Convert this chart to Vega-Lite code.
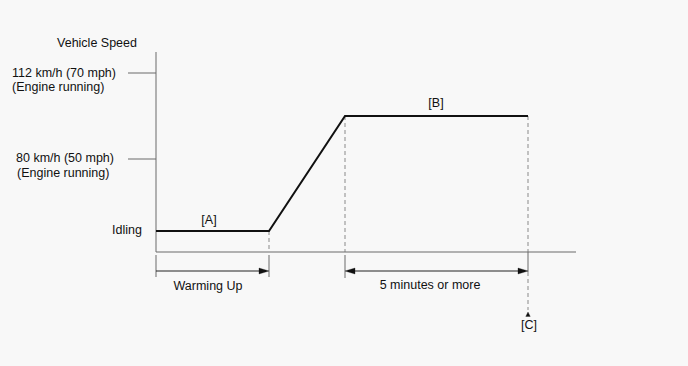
{
  "$schema": "https://vega.github.io/schema/vega-lite/v6.json",
  "width": 688,
  "height": 366,
  "padding": 0,
  "autosize": {"type": "none"},
  "background": "#f8f8f8",
  "config": {"view": {"stroke": null}, "text": {"font": "Liberation Sans", "fontSize": 12.5, "color": "#111111"}},
  "datasets": {
    "axes": [
      {"x": 0, "x2": 0, "y": 0, "y2": 200},
      {"x": 0, "x2": 420, "y": 0, "y2": 0},
      {"x": -28, "x2": 0, "y": 179, "y2": 179},
      {"x": -28, "x2": 0, "y": 93, "y2": 93},
      {"x": 0, "x2": 0, "y": -3, "y2": -25},
      {"x": 113, "x2": 113, "y": -3, "y2": -25},
      {"x": 189, "x2": 189, "y": -3, "y2": -26},
      {"x": 372, "x2": 372, "y": 0, "y2": -20}
    ],
    "dashed": [
      {"x": 113, "x2": 113, "y": 21, "y2": 0},
      {"x": 189, "x2": 189, "y": 136, "y2": 0},
      {"x": 372, "x2": 372, "y": 136, "y2": 0},
      {"x": 372, "x2": 372, "y": -20, "y2": -58}
    ],
    "speed": [
      {"t": 0, "v": 21},
      {"t": 113, "v": 21},
      {"t": 189, "v": 136},
      {"t": 372, "v": 136}
    ],
    "spans": [
      {"x": 0, "x2": 108, "y": -19, "y2": -19},
      {"x": 194, "x2": 367, "y": -19, "y2": -19}
    ],
    "heads": [
      {"x": 113, "y": -19, "dir": "right"},
      {"x": 372, "y": -19, "dir": "right"},
      {"x": 189, "y": -19, "dir": "left"},
      {"x": 372, "y": -60, "dir": "up"}
    ],
    "labels": [
      {"x": -59, "y": 209, "text": "Vehicle Speed", "pos": "center"},
      {"x": -144, "y": 179, "text": "112 km/h (70 mph)", "pos": "left"},
      {"x": -144, "y": 165, "text": "(Engine running)", "pos": "left"},
      {"x": -140, "y": 94, "text": "80 km/h (50 mph)", "pos": "left"},
      {"x": -139, "y": 79, "text": "(Engine running)", "pos": "left"},
      {"x": -14, "y": 22, "text": "Idling", "pos": "right"},
      {"x": 53, "y": 32, "text": "[A]", "pos": "center"},
      {"x": 52, "y": -34, "text": "Warming Up", "pos": "center"},
      {"x": 280, "y": 149, "text": "[B]", "pos": "center"},
      {"x": 274, "y": -33, "text": "5 minutes or more", "pos": "center"},
      {"x": 373, "y": -73, "text": "[C]", "pos": "center"}
    ]
  },
  "layer": [
    {
      "data": {"name": "dashed"},
      "mark": {"type": "rule", "stroke": "#8a8a8a", "strokeWidth": 1, "strokeDash": [4, 3]},
      "encoding": {
        "x": {"field": "x", "type": "quantitative", "scale": {"domain": [-156, 532], "nice": false, "zero": false}, "axis": null},
        "x2": {"field": "x2"},
        "y": {"field": "y", "type": "quantitative", "scale": {"domain": [-114, 252], "nice": false, "zero": false}, "axis": null},
        "y2": {"field": "y2"}
      }
    },
    {
      "data": {"name": "axes"},
      "mark": {"type": "rule", "stroke": "#6a6a6a", "strokeWidth": 1},
      "encoding": {
        "x": {"field": "x", "type": "quantitative"},
        "x2": {"field": "x2"},
        "y": {"field": "y", "type": "quantitative"},
        "y2": {"field": "y2"}
      }
    },
    {
      "data": {"name": "spans"},
      "mark": {"type": "rule", "stroke": "#222222", "strokeWidth": 1.2},
      "encoding": {
        "x": {"field": "x", "type": "quantitative"},
        "x2": {"field": "x2"},
        "y": {"field": "y", "type": "quantitative"},
        "y2": {"field": "y2"}
      }
    },
    {
      "data": {"name": "speed"},
      "mark": {"type": "line", "stroke": "#111111", "strokeWidth": 2},
      "encoding": {
        "x": {"field": "t", "type": "quantitative"},
        "y": {"field": "v", "type": "quantitative"},
        "order": {"field": "t"}
      }
    },
    {
      "data": {"name": "heads"},
      "transform": [{"filter": "datum.dir === 'right'"}],
      "mark": {"type": "point", "shape": "M0,0L-1,-0.3L-1,0.3Z", "size": 400, "filled": true, "fill": "#111111", "stroke": "#111111", "strokeWidth": 0.3, "opacity": 1},
      "encoding": {
        "x": {"field": "x", "type": "quantitative"},
        "y": {"field": "y", "type": "quantitative"}
      }
    },
    {
      "data": {"name": "heads"},
      "transform": [{"filter": "datum.dir === 'left'"}],
      "mark": {"type": "point", "shape": "M0,0L1,-0.3L1,0.3Z", "size": 400, "filled": true, "fill": "#111111", "stroke": "#111111", "strokeWidth": 0.3, "opacity": 1},
      "encoding": {
        "x": {"field": "x", "type": "quantitative"},
        "y": {"field": "y", "type": "quantitative"}
      }
    },
    {
      "data": {"name": "heads"},
      "transform": [{"filter": "datum.dir === 'up'"}],
      "mark": {"type": "point", "shape": "M0,0L-0.5,1L0.5,1Z", "size": 80, "filled": true, "fill": "#111111", "stroke": "#111111", "strokeWidth": 0.3, "opacity": 1},
      "encoding": {
        "x": {"field": "x", "type": "quantitative"},
        "y": {"field": "y", "type": "quantitative"}
      }
    },
    {
      "data": {"name": "labels"},
      "transform": [{"filter": "datum.pos === 'center'"}],
      "mark": {"type": "text", "align": "center", "baseline": "middle"},
      "encoding": {
        "x": {"field": "x", "type": "quantitative"},
        "y": {"field": "y", "type": "quantitative"},
        "text": {"field": "text"}
      }
    },
    {
      "data": {"name": "labels"},
      "transform": [{"filter": "datum.pos === 'left'"}],
      "mark": {"type": "text", "align": "left", "baseline": "middle"},
      "encoding": {
        "x": {"field": "x", "type": "quantitative"},
        "y": {"field": "y", "type": "quantitative"},
        "text": {"field": "text"}
      }
    },
    {
      "data": {"name": "labels"},
      "transform": [{"filter": "datum.pos === 'right'"}],
      "mark": {"type": "text", "align": "right", "baseline": "middle"},
      "encoding": {
        "x": {"field": "x", "type": "quantitative"},
        "y": {"field": "y", "type": "quantitative"},
        "text": {"field": "text"}
      }
    }
  ]
}
